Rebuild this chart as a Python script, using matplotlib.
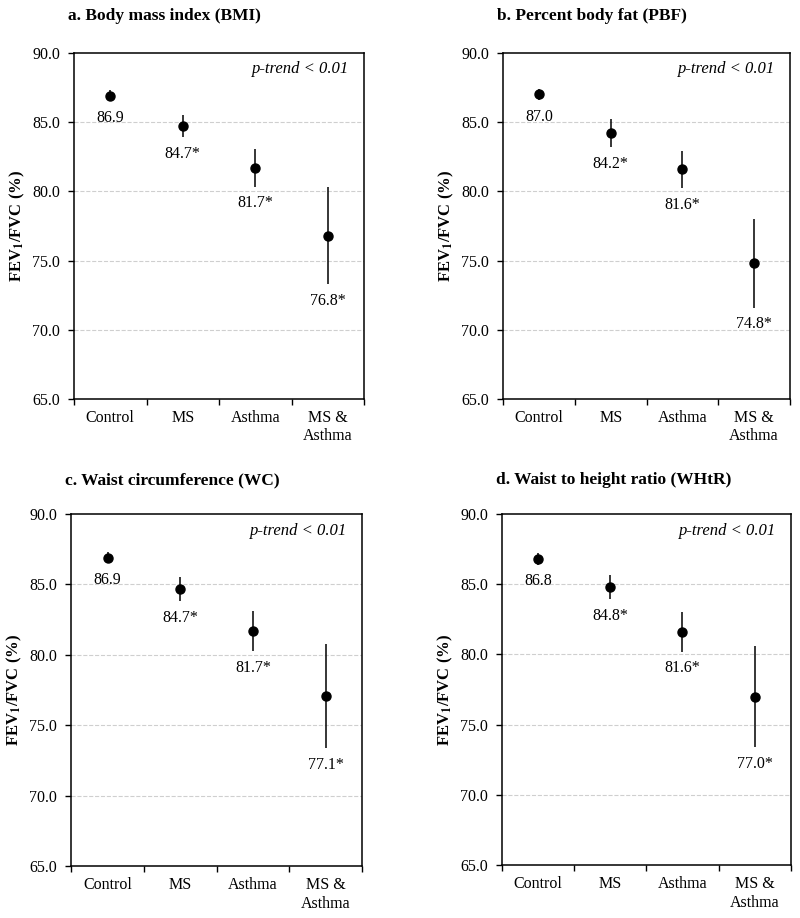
import matplotlib.pyplot as plt
import numpy as np

plt.rcParams['font.family'] = ['Liberation Serif', 'DejaVu Serif']
plt.rcParams['mathtext.fontset'] = 'stix'

groups = ['Control', 'MS', 'Asthma', 'MS &\nAsthma']
signif = ['', '*', '*', '*']

titles = ['a. Body mass index (BMI)', 'b. Percent body fat (PBF)',
          'c. Waist circumference (WC)', 'd. Waist to height ratio (WHtR)']

bmi_mean = [86.9, 84.7, 81.7, 76.8]
bmi_err = [0.4, 0.8, 1.35, 3.5]
pbf_mean = [87.0, 84.2, 81.6, 74.8]
pbf_err = [0.4, 1.0, 1.35, 3.2]
wc_mean = [86.9, 84.7, 81.7, 77.1]
wc_err = [0.4, 0.85, 1.4, 3.7]
whtr_mean = [86.8, 84.8, 81.6, 77.0]
whtr_err = [0.4, 0.87, 1.4, 3.6]

y_ticks = [65.0, 70.0, 75.0, 80.0, 85.0, 90.0]


def draw_panel(ax, means, errs):
    x = np.arange(len(groups))
    ax.errorbar(x, means, yerr=errs, fmt='o', color='black', markersize=6.5,
                elinewidth=1.1, capsize=0, zorder=3)
    for xi, m, e, s in zip(x, means, errs, signif):
        # value label sits under the lower whisker
        ax.text(xi, m - e - 1.2, f'{m:.1f}{s}', ha='center', va='center',
                fontsize=11.5)
    ax.set_xlim(-0.5, len(groups) - 0.5)
    ax.set_ylim(65, 90)
    ax.set_yticks(y_ticks)
    ax.set_yticklabels([f'{t:.1f}' for t in y_ticks], fontsize=11.5)
    ax.set_xticks(x)
    ax.set_xticklabels(groups, fontsize=11.5, linespacing=1.2)
    ax.set_xticks(np.arange(-0.5, len(groups)), minor=True)
    ax.tick_params(axis='x', which='major', length=0, pad=8)
    ax.tick_params(axis='x', which='minor', length=4, direction='out', width=1)
    ax.tick_params(axis='y', length=4, direction='out', width=1, pad=6)
    for t in [70, 75, 80, 85]:
        ax.axhline(t, color='#cfcfcf', linestyle='--', linewidth=0.8, zorder=0)
    for sp in ax.spines.values():
        sp.set_linewidth(1.1)
    ax.set_ylabel(r'FEV$_{\mathbf{1}}$/FVC (%)', fontsize=12, fontweight='bold', labelpad=4)
    ax.text(0.948, 0.953, 'p-trend < 0.01', transform=ax.transAxes, ha='right', va='center',
            style='italic', fontsize=12)


fig = plt.figure(figsize=(8, 9.18), dpi=100)

rects = [
    [0.0925, 0.5654, 0.3625, 0.3769],
    [0.629, 0.5654, 0.3585, 0.3769],
    [0.089, 0.0566, 0.3635, 0.3834],
    [0.6275, 0.0577, 0.3610, 0.3823],
]
data = [(bmi_mean, bmi_err), (pbf_mean, pbf_err), (wc_mean, wc_err), (whtr_mean, whtr_err)]
title_y = [1 - 16 / 918, 1 - 16 / 918, 1 - 480 / 918, 1 - 480 / 918]

for rect, (m, e), title, ty in zip(rects, data, titles, title_y):
    ax = fig.add_axes(rect)
    draw_panel(ax, m, e)
    fig.text(rect[0] - 0.008, ty, title, ha='left', va='center', fontsize=12.5,
             fontweight='bold')

fig.savefig('out.png', dpi=100)
